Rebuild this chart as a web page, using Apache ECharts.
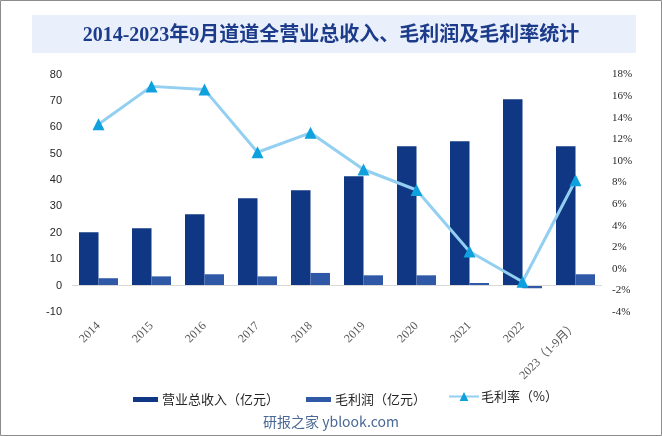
<!DOCTYPE html>
<html>
<head>
<meta charset="utf-8">
<script src="https://cdn.jsdelivr.net/npm/echarts@6/dist/echarts.min.js"></script>
<style>html,body{margin:0;padding:0;background:#fff}#c{width:662px;height:436px}</style>
</head>
<body>
<div id="c"></div>
<script>
const categories = ['2014','2015','2016','2017','2018','2019','2020','2021','2022','2023（1-9月）'];
const revenue = [20.2, 21.7, 27.0, 33.1, 36.1, 41.4, 52.8, 54.7, 70.6, 52.8];
const grossProfit = [2.8, 3.5, 4.3, 3.5, 4.8, 3.9, 3.9, 1.0, -1.0, 4.3];
const grossMargin = [13.4, 16.9, 16.6, 10.8, 12.6, 9.2, 7.3, 1.6, -1.2, 8.2];
const seriesNames = ['营业总收入（亿元）', '毛利润（亿元）', '毛利率（%）'];
const titleText = '2014-2023年9月道道全营业总收入、毛利润及毛利率统计';
const sourceText = '研报之家 yblook.com';

const chart = echarts.init(document.getElementById('c'), null, {renderer: 'canvas'});
chart.setOption({
  backgroundColor: '#ffffff',
  animation: false,
  graphic: [
    {type: 'rect', shape: {x: 0.5, y: 0.5, width: 661, height: 435}, style: {fill: 'none', stroke: '#8c8c8c', lineWidth: 1}, z: 100},
    {type: 'rect', shape: {x: 32, y: 15, width: 604, height: 38}, style: {fill: '#e9f0fb'}, z: -1}
  ],
  title: [
    {text: titleText, left: 'center', top: 21,
     textStyle: {fontFamily: '"Liberation Serif", "Noto Sans CJK SC", serif', fontSize: 20, fontWeight: 'bold', color: '#1d3b8b'}},
    {text: sourceText, left: 'center', top: 410,
     textStyle: {fontFamily: '"Noto Sans CJK SC", sans-serif', fontSize: 14, fontWeight: 'normal', color: '#4a6896'}}
  ],
  legend: [
    {data: [seriesNames[0], seriesNames[1]], left: 128, top: 388, icon: 'rect', itemWidth: 25, itemHeight: 5, itemGap: 27,
     textStyle: {fontFamily: '"Noto Sans CJK SC", sans-serif', fontSize: 13, color: '#262626', padding: [0, 0, 0, -1]}},
    {data: [seriesNames[2]], left: 443, top: 385, itemWidth: 30, itemHeight: 11,
     textStyle: {fontFamily: '"Noto Sans CJK SC", sans-serif', fontSize: 13, color: '#262626', padding: [0, 0, 0, -3]}}
  ],
  grid: {left: 72, right: 60, top: 74.5, bottom: 124, containLabel: false},
  xAxis: {
    type: 'category', data: categories,
    axisLine: {show: false}, axisTick: {show: false},
    axisLabel: {rotate: 45, margin: 12, interval: 0, color: '#595959', fontSize: 12,
      fontFamily: '"Liberation Serif", "Noto Sans CJK SC", serif'}
  },
  yAxis: [
    {type: 'value', min: -10, max: 80, interval: 10, splitLine: {show: false},
     axisLine: {show: false}, axisTick: {show: false},
     axisLabel: {color: '#262626', fontSize: 11, margin: 10, fontFamily: '"Liberation Sans", sans-serif'}},
    {type: 'value', min: -4, max: 18, interval: 2, splitLine: {show: false},
     axisLine: {show: false}, axisTick: {show: false},
     axisLabel: {color: '#262626', fontSize: 11, margin: 10, formatter: '{value}%', fontFamily: '"Liberation Serif", serif'}}
  ],
  series: [
    {name: seriesNames[0], type: 'bar', data: revenue, barWidth: 19.5, barGap: '0%', itemStyle: {color: '#0f3784'},
     markLine: {silent: true, symbol: 'none', label: {show: false}, lineStyle: {color: '#d9d9d9', type: 'solid', width: 1},
       data: [{yAxis: 0}]}},
    {name: seriesNames[1], type: 'bar', data: grossProfit, barWidth: 19.5, barGap: '0%', itemStyle: {color: '#2f59a6'}},
    {name: seriesNames[2], type: 'line', yAxisIndex: 1, data: grossMargin, symbol: 'triangle', symbolSize: 12,
     lineStyle: {color: '#92cff0', width: 3}, itemStyle: {color: '#0ea1de'}, z: 5}
  ]
});
</script>
</body>
</html>
